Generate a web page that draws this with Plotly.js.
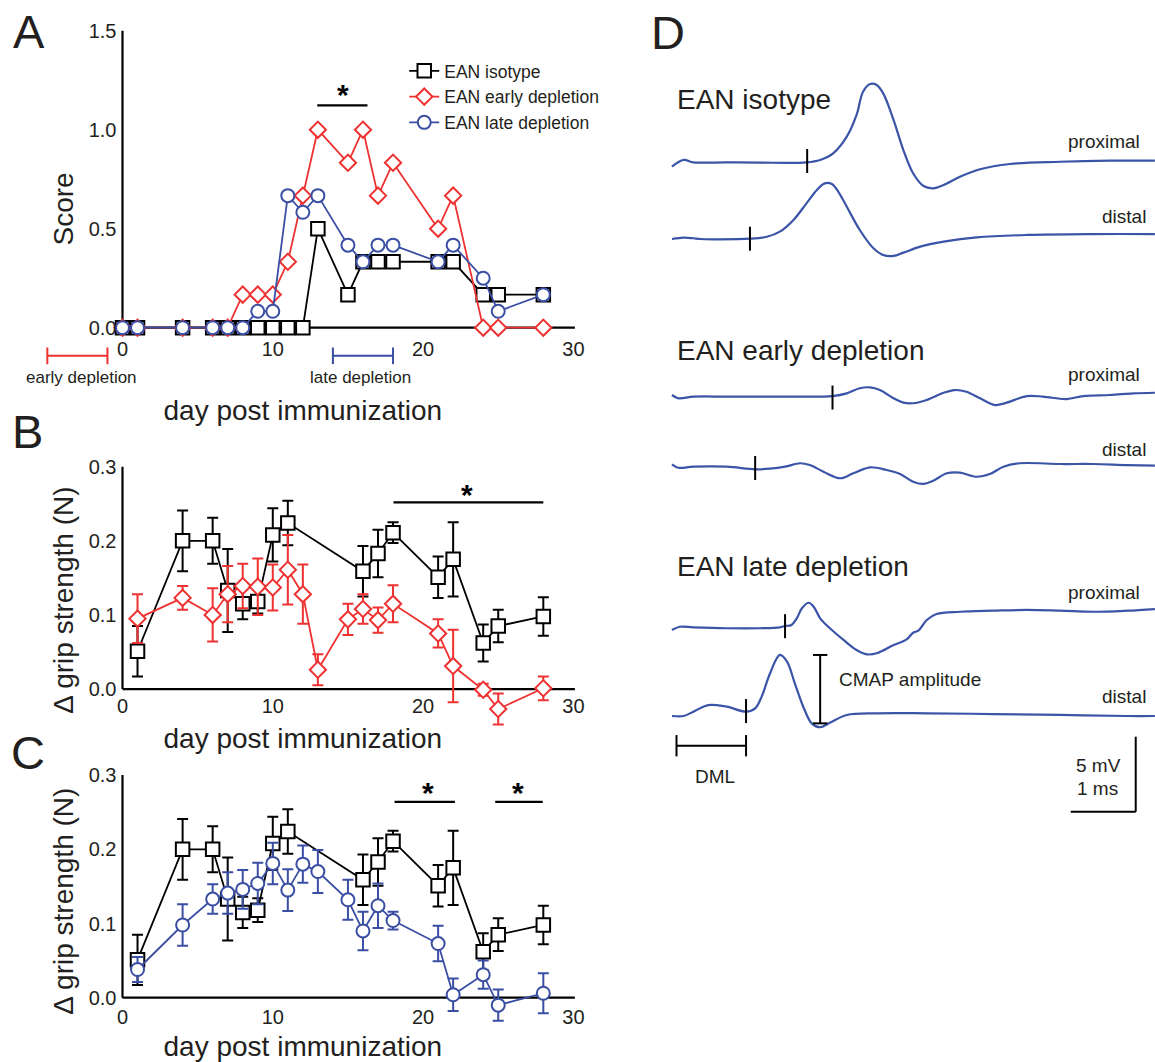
<!DOCTYPE html>
<html>
<head>
<meta charset="utf-8">
<script src="https://cdn.plot.ly/plotly-3.0.1.min.js"></script>
<style>
html,body{margin:0;padding:0;background:#ffffff;}
#chart{width:1155px;height:1062px;}
</style>
</head>
<body>
<div id="chart"></div>
<script>
// ================= DATA =================
// Panel A : clinical score
const scoreDays     = [0,1,4,6,7,8,9,10,11,12,13,15,16,17,18,21,22,24,25,28];
const scoreIsotype  = [0,0,0,0,0,0,0,0,0,0,0.5,0.167,0.333,0.333,0.333,0.333,0.333,0.167,0.167,0.167];
const scoreEarly    = [0,0,0,0,0,0.167,0.167,0.167,0.333,0.667,1.0,0.833,1.0,0.667,0.833,0.5,0.667,0,0,0];
const scoreLate     = [0,0,0,0,0,0,0.083,0.083,0.667,0.583,0.667,0.417,0.333,0.417,0.417,0.333,0.417,0.25,0.083,0.167];
const earlyDepletionDays = [-5, -1];
const lateDepletionDays  = [14, 18];

// Panels B / C : delta grip strength (N), mean and error
const gripDaysIsotype = [1,4,6,7,8,9,10,11,16,17,18,21,22,24,25,28];
const gripIsotype     = [0.051,0.200,0.200,0.133,0.115,0.118,0.208,0.224,0.159,0.183,0.211,0.151,0.175,0.062,0.085,0.098];
const gripIsotypeErr  = [0.034,0.041,0.031,0.056,0.021,0.016,0.036,0.030,0.034,0.032,0.014,0.028,0.050,0.025,0.022,0.026];

const gripDaysDepletion = [1,4,6,7,8,9,10,11,12,13,15,16,17,18,21,22,24,25,28];
const gripEarly    = [0.095,0.123,0.100,0.128,0.139,0.138,0.137,0.161,0.128,0.026,0.094,0.108,0.093,0.115,0.075,0.031,-0.001,-0.027,0.001];
const gripEarlyErr = [0.033,0.016,0.036,0.038,0.030,0.038,0.031,0.047,0.040,0.021,0.021,0.020,0.017,0.025,0.019,0.049,0.008,0.021,0.016];
const gripLate     = [0.038,0.098,0.133,0.141,0.146,0.154,0.181,0.145,0.180,0.170,0.132,0.090,0.124,0.104,0.073,0.004,0.031,-0.010,0.006];
const gripLateErr  = [0.017,0.028,0.020,0.028,0.026,0.028,0.028,0.028,0.025,0.029,0.027,0.026,0.030,0.012,0.024,0.022,0.019,0.021,0.027];

// significance bars: [start day, end day], level, star day
const sigA = {spans: [[12.96, 16.3]], level: 1.123, stars: [14.7],  starLevel: 1.206};
const sigB = {spans: [[18.03, 28.0]], level: 0.252, stars: [22.93], starLevel: 0.271};
const sigC = {spans: [[18.1, 22.12],[24.8, 27.96]], level: 0.264, stars: [20.33, 26.31], starLevel: 0.284};

// Panel D : CMAP recordings, time (ms) and level (mV)
const isoProxT = [0.03,0.21,0.36,0.87,1.38,2.10,2.31,2.51,2.72,2.87,2.97,3.08,3.18,3.28,3.44,3.59,3.74,3.90,4.05,4.21,4.46,4.77,5.23,6.00,6.77,7.46];
const isoProxV = [43.22,43.67,43.51,43.51,43.49,43.51,43.67,44.11,45.22,46.67,48.22,48.73,48.67,48.11,46.33,44.33,42.78,41.93,41.78,42.00,42.55,43.05,43.40,43.55,43.62,43.62];
const isoDistT = [0.03,0.21,0.36,0.46,0.67,1.23,1.49,1.69,1.90,2.10,2.26,2.38,2.49,2.59,2.72,2.92,3.13,3.28,3.44,3.59,3.85,4.21,4.72,5.49,6.51,7.46];
const isoDistV = [38.40,38.49,38.45,38.40,38.38,38.42,38.55,38.89,39.67,40.78,41.67,42.11,42.07,41.55,40.55,39.00,37.78,37.33,37.27,37.49,37.89,38.22,38.51,38.67,38.73,38.73];
const earlyProxT = [0.03,0.13,0.36,0.87,1.38,1.90,2.50,2.72,2.92,3.08,3.23,3.44,3.59,3.74,3.95,4.21,4.38,4.56,4.77,5.00,5.18,5.49,5.74,6.10,6.36,6.77,7.13,7.46];
const earlyProxV = [28.00,27.78,27.89,27.89,27.89,27.89,27.93,28.11,28.45,28.51,28.33,27.78,27.49,27.45,27.67,28.15,28.33,28.22,27.78,27.33,27.49,27.93,27.89,27.73,27.93,28.00,28.11,28.15];
const earlyDistT = [0.03,0.13,0.36,0.87,1.31,1.54,1.77,2.00,2.15,2.36,2.62,2.82,3.08,3.33,3.54,3.74,3.90,4.05,4.26,4.46,4.72,4.92,5.13,5.38,6.00,6.51,7.03,7.46];
const earlyDistV = [23.38,23.15,23.22,23.22,23.05,23.09,23.22,23.45,23.33,22.89,22.45,22.78,23.18,23.00,22.73,22.22,22.07,22.29,22.78,22.82,22.55,22.73,23.22,23.45,23.40,23.40,23.33,23.29];
const lateProxT = [0.03,0.15,0.36,0.87,1.38,1.69,1.77,1.87,1.95,2.03,2.13,2.21,2.31,2.46,2.67,2.87,3.03,3.18,3.44,3.64,3.74,3.82,3.95,4.10,4.46,4.97,5.49,6.00,6.51,7.03,7.46];
const lateProxV = [12.33,12.55,12.51,12.45,12.45,12.51,12.60,12.67,13.11,13.78,14.15,13.89,13.11,12.45,11.67,11.00,10.71,10.78,11.33,11.71,12.15,12.29,13.00,13.40,13.55,13.62,13.67,13.62,13.55,13.62,13.73];
const lateDistT = [0.03,0.21,0.36,0.59,0.87,1.17,1.31,1.41,1.54,1.69,1.80,1.92,2.05,2.18,2.31,2.46,2.72,3.18,3.95,4.97,6.00,7.03,7.46];
const lateDistV = [6.60,6.60,6.89,7.33,7.22,6.89,7.11,7.89,9.45,10.67,10.22,8.78,7.22,6.11,5.85,6.15,6.67,6.78,6.78,6.73,6.67,6.60,6.60];

// onset latency markers (ms) and the trace level (mV) they sit on
const onsetT     = [2.11, 1.23, 2.50, 1.31, 1.77, 1.17];
const onsetLevel = [43.60, 38.42, 27.83, 23.13, 12.59, 6.93];
// CMAP amplitude (late depletion distal): time, low, high
const cmapAmp = {t: 2.31, low: 6.11, high: 10.67};
// distal motor latency bracket: start (ms), end = distal onset, level
const dml = {t0: 0.10, t1: 1.17, level: 4.62};
// scale bar: 1 ms x 5 mV
const scaleBar = {t0: 6.165, ms: 1, base: 0.22, mV: 5};

// ================= STYLE =================
const FONT = 'Liberation Sans, Arial, Helvetica, sans-serif';
const INK = '#231f20';
const BLACK = '#000000';
const RED = '#ee3131';
const BLUE = '#3a4ea3';
const TRACE = '#3a54a7';

const traces = [];

function seriesTrace(x, y, name, color, symbol, size, xa, ya, err, legend) {
  const t = {
    type: 'scatter', mode: 'lines+markers', x: x, y: y, name: name,
    xaxis: xa, yaxis: ya, showlegend: !!legend, cliponaxis: false,
    line: {color: color, width: 1.8},
    marker: {symbol: symbol, size: size, color: '#ffffff', line: {color: color, width: 2}},
    hoverinfo: 'skip'
  };
  if (err) {
    t.error_y = {type: 'data', array: err, visible: true, color: color, thickness: 2, width: 5.5};
  }
  return t;
}

// Panel A
traces.push(seriesTrace(scoreDays, scoreIsotype, 'EAN isotype', BLACK, 'square', 13.5, 'x', 'y', null, true));
traces.push(seriesTrace(scoreDays, scoreEarly, 'EAN early depletion', RED, 'diamond', 12.5, 'x', 'y', null, true));
traces.push(seriesTrace(scoreDays, scoreLate, 'EAN late depletion', BLUE, 'circle', 13, 'x', 'y', null, true));
// Panel B
traces.push(seriesTrace(gripDaysIsotype, gripIsotype, 'EAN isotype', BLACK, 'square', 13.5, 'x2', 'y2', gripIsotypeErr, false));
traces.push(seriesTrace(gripDaysDepletion, gripEarly, 'EAN early depletion', RED, 'diamond', 12.5, 'x2', 'y2', gripEarlyErr, false));
// Panel C
traces.push(seriesTrace(gripDaysIsotype, gripIsotype, 'EAN isotype', BLACK, 'square', 13.5, 'x3', 'y3', gripIsotypeErr, false));
traces.push(seriesTrace(gripDaysDepletion, gripLate, 'EAN late depletion', BLUE, 'circle', 13, 'x3', 'y3', gripLateErr, false));

// Panel D recordings
const recordings = [
  [isoProxT, isoProxV], [isoDistT, isoDistV],
  [earlyProxT, earlyProxV], [earlyDistT, earlyDistV],
  [lateProxT, lateProxV], [lateDistT, lateDistV]
];
recordings.forEach(function (r) {
  traces.push({
    type: 'scatter', mode: 'lines', x: r[0], y: r[1], xaxis: 'x4', yaxis: 'y4',
    showlegend: false, hoverinfo: 'skip',
    line: {color: TRACE, width: 2.2, shape: 'spline', smoothing: 1}
  });
});

// ================= SHAPES =================
const shapes = [];
function line(xref, yref, x0, y0, x1, y1, color, width, layer) {
  shapes.push({type: 'line', xref: xref, yref: yref, x0: x0, y0: y0, x1: x1, y1: y1,
    line: {color: color, width: width}, layer: layer || 'above'});
}
// axis lines
[['x', 'y', 1.5], ['x2', 'y2', 0.3], ['x3', 'y3', 0.3]].forEach(function (p) {
  line(p[0], p[1], 0, 0, 30.1, 0, BLACK, 2.2, 'below');
  line(p[0], p[1], 0, 0, 0, p[2], BLACK, 2.2, 'below');
});
// depletion brackets (panel A)
function bracket(xref, yref, x0, x1, y, half, color, width) {
  line(xref, yref, x0, y, x1, y, color, width);
  line(xref, yref, x0, y - half, x0, y + half, color, width);
  line(xref, yref, x1, y - half, x1, y + half, color, width);
}
bracket('x', 'y', earlyDepletionDays[0], earlyDepletionDays[1], -0.142, 0.042, RED, 2);
bracket('x', 'y', lateDepletionDays[0], lateDepletionDays[1], -0.142, 0.042, BLUE, 2);
// significance bars
[[sigA, 'x', 'y'], [sigB, 'x2', 'y2'], [sigC, 'x3', 'y3']].forEach(function (s) {
  s[0].spans.forEach(function (sp) { line(s[1], s[2], sp[0], s[0].level, sp[1], s[0].level, BLACK, 2.2); });
});
// onset latency ticks
onsetT.forEach(function (t, i) {
  line('x4', 'y4', t, onsetLevel[i] - 0.8, t, onsetLevel[i] + 0.8, BLACK, 2);
});
// CMAP amplitude bar
line('x4', 'y4', cmapAmp.t, cmapAmp.low, cmapAmp.t, cmapAmp.high, BLACK, 2);
line('x4', 'y4', cmapAmp.t - 0.11, cmapAmp.low, cmapAmp.t + 0.11, cmapAmp.low, BLACK, 2);
line('x4', 'y4', cmapAmp.t - 0.11, cmapAmp.high, cmapAmp.t + 0.11, cmapAmp.high, BLACK, 2);
// DML bracket
bracket('x4', 'y4', dml.t0, dml.t1, dml.level, 0.71, BLACK, 2);
// scale bar
line('x4', 'y4', scaleBar.t0, scaleBar.base, scaleBar.t0 + scaleBar.ms, scaleBar.base, BLACK, 2);
line('x4', 'y4', scaleBar.t0 + scaleBar.ms, scaleBar.base, scaleBar.t0 + scaleBar.ms, scaleBar.base + scaleBar.mV, BLACK, 2);

// ================= ANNOTATIONS =================
const annotations = [];
function note(text, xref, yref, x, y, size, xanchor, extra) {
  const a = {text: text, xref: xref, yref: yref, x: x, y: y, showarrow: false,
    xanchor: xanchor || 'center', yanchor: 'middle', font: {family: FONT, size: size, color: INK}};
  if (extra) Object.assign(a, extra);
  annotations.push(a);
}
// panel letters
note('A', 'paper', 'paper', 0.0249, 0.9700, 47);
note('B', 'paper', 'paper', 0.0242, 0.5937, 47);
note('C', 'paper', 'paper', 0.0242, 0.2919, 47);
note('D', 'paper', 'paper', 0.5784, 0.9690, 47);
// depletion labels
note('early depletion', 'x', 'y', -2.73, -0.254, 17);
note('late depletion', 'x', 'y', 15.86, -0.254, 17);
// stars
[[sigA, 'x', 'y'], [sigB, 'x2', 'y2'], [sigC, 'x3', 'y3']].forEach(function (s) {
  s[0].stars.forEach(function (d) {
    note('<b>*</b>', s[1], s[2], d, s[0].starLevel, 30, 'center', {yshift: -6, font: {family: FONT, size: 30, color: BLACK}});
  });
});
// panel D labels
note('EAN isotype', 'x4', 'y4', 0.077, 47.67, 28, 'left');
note('EAN early depletion', 'x4', 'y4', 0.077, 31.0, 28, 'left');
note('EAN late depletion', 'x4', 'y4', 0.077, 16.55, 28, 'left');
note('proximal', 'x4', 'y4', 7.257, 44.89, 19, 'right');
note('distal', 'x4', 'y4', 7.354, 39.89, 19, 'right');
note('proximal', 'x4', 'y4', 7.257, 29.38, 19, 'right');
note('distal', 'x4', 'y4', 7.354, 24.38, 19, 'right');
note('proximal', 'x4', 'y4', 7.257, 14.82, 19, 'right');
note('distal', 'x4', 'y4', 7.354, 7.93, 19, 'right');
note('CMAP amplitude', 'x4', 'y4', 2.565, 9.05, 19, 'left');
note('DML', 'x4', 'y4', 0.685, 2.55, 19);
note('5 mV', 'x4', 'y4', 6.585, 3.27, 19);
note('1 ms', 'x4', 'y4', 6.575, 1.78, 19);

// ================= LAYOUT =================
const tickFont = {family: FONT, size: 20, color: INK};
const titleFont = {family: FONT, size: 28, color: INK};
const xDomain = [0.02147, 0.50294];
const xRange = [-6.5, 30.5];
const yAxisPos = 0.10606;

function xAxis(pos, standoff, titleStandoff) {
  return {domain: xDomain, range: xRange, anchor: 'free', position: pos,
    showline: false, showgrid: false, zeroline: false, ticks: '',
    tickvals: [0, 10, 20, 30], tickfont: tickFont, ticklabelstandoff: standoff,
    title: {text: 'day post immunization', font: titleFont, standoff: titleStandoff},
    fixedrange: true};
}
function yAxis(domain, range, vals, title) {
  return {domain: domain, range: range, anchor: 'free', position: yAxisPos,
    showline: false, showgrid: false, zeroline: false, ticks: '',
    tickvals: vals, tickformat: '.1f', tickfont: tickFont, ticklabelstandoff: 6,
    title: {text: title, font: titleFont, standoff: 5},
    fixedrange: true};
}

const layout = {
  width: 1155, height: 1062,
  margin: {l: 0, r: 0, t: 0, b: 0, pad: 0},
  paper_bgcolor: '#ffffff', plot_bgcolor: 'rgba(0,0,0,0)',
  font: {family: FONT, color: INK},
  hovermode: false,
  showlegend: true,
  legend: {x: 0.350, y: 0.9501, xanchor: 'left', yanchor: 'top',
    bgcolor: 'rgba(0,0,0,0)', font: {family: FONT, size: 17.5, color: INK},
    tracegroupgap: 0, itemclick: false, itemdoubleclick: false},
  xaxis: xAxis(0.69143, 7, 41),
  yaxis: yAxis([0.63177, 0.97482], [-0.32, 1.52], [0, 0.5, 1.0, 1.5], 'Score'),
  xaxis2: xAxis(0.35122, 3, 12),
  yaxis2: yAxis([0.30235, 0.56751], [-0.07, 0.31], [0, 0.1, 0.2, 0.3], 'Δ grip strength (N)'),
  xaxis3: xAxis(0.06055, 5, 13),
  yaxis3: yAxis([0.02561, 0.27712], [-0.05, 0.31], [0, 0.1, 0.2, 0.3], 'Δ grip strength (N)'),
  xaxis4: {domain: [0.58009, 1.0], range: [0, 7.4615], anchor: 'y4', visible: false, fixedrange: true},
  yaxis4: {domain: [0.23258, 0.94350], range: [0, 50.333], anchor: 'x4', visible: false, fixedrange: true},
  shapes: shapes,
  annotations: annotations
};

Plotly.newPlot('chart', traces, layout, {displayModeBar: false, staticPlot: true, responsive: false});
</script>
</body>
</html>
